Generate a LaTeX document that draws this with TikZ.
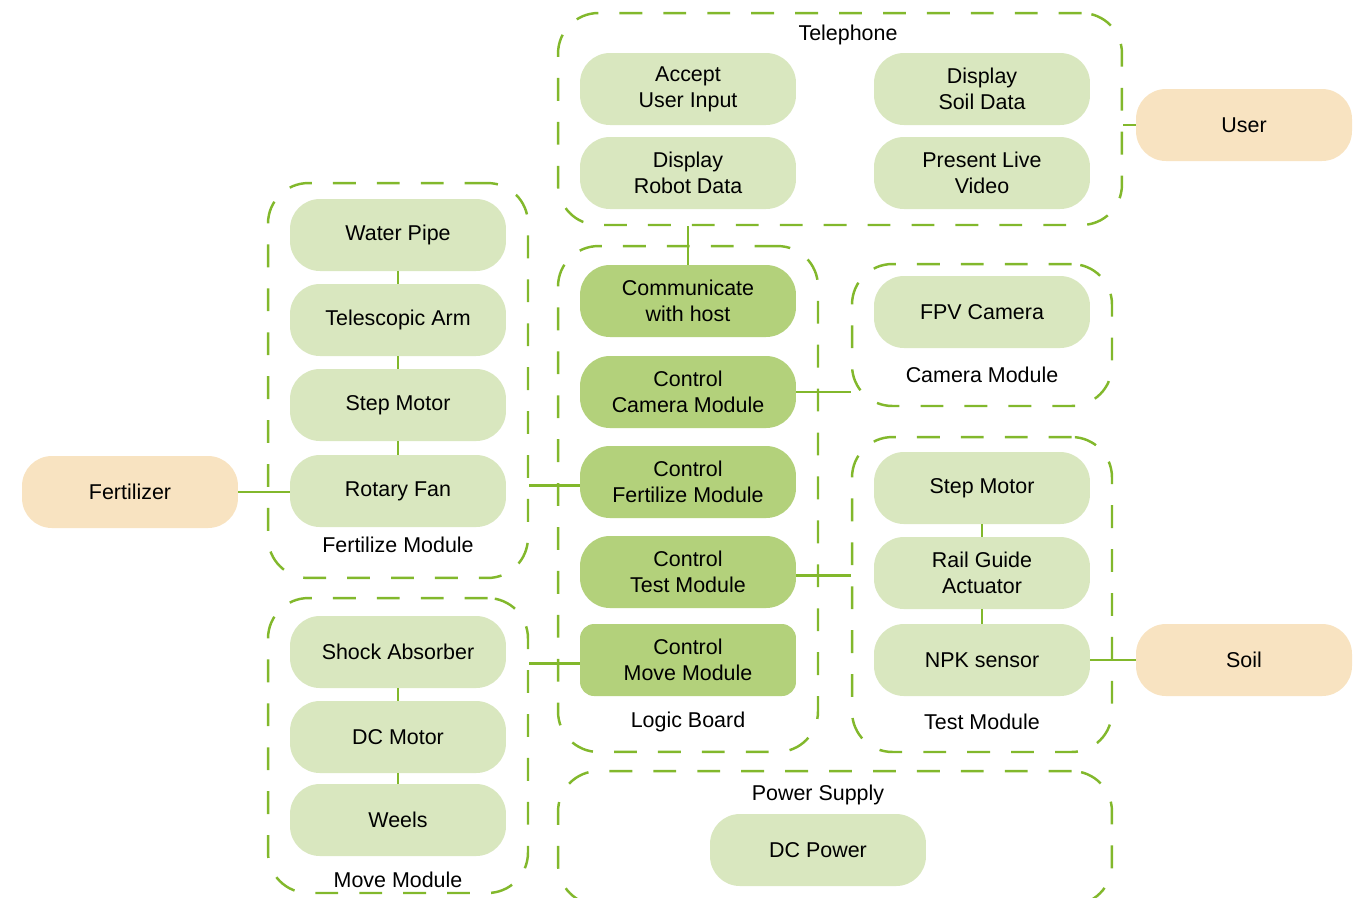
\documentclass[tikz,border=0pt]{standalone}
\usepackage{fontspec}
\setmainfont{Liberation Sans}
\usepackage{xcolor}
\definecolor{leafgreen}{HTML}{D9E7BF}
\definecolor{darkleaf}{HTML}{B3D17B}
\definecolor{sand}{HTML}{F8E3C1}
\definecolor{edgegreen}{HTML}{82B82C}

\begin{document}
\begin{tikzpicture}[x=0.02cm,y=-0.02cm,
  txt/.style={font=\fontsize{12.2}{14.7}\selectfont,align=center,text=black},
  box/.style={txt,fill=leafgreen,rounded corners=17pt,minimum width=4.32cm,minimum height=1.44cm,inner sep=2pt},
  ctrl/.style={box,fill=darkleaf},
  ext/.style={box,fill=sand},
  grp/.style={draw=edgegreen,line width=1.4pt,dash pattern=on 13pt off 12pt,rounded corners=23pt,minimum width=5.2cm,inner sep=0pt},
  lbl/.style={txt},
  link/.style={draw=edgegreen,line width=1.2pt}]
  \useasboundingbox (0,0) rectangle (1354,897);
  % groups
  \node[grp,minimum width=11.28cm,minimum height=4.24cm] (tel) at (840,119) {};
  \node[grp,minimum height=7.9cm] (fert) at (398,380.5) {};
  \node[grp,minimum height=5.9cm] (move) at (398,745.5) {};
  \node[grp,minimum height=10.12cm] (logic) at (688,499) {};
  \node[grp,minimum height=2.84cm] (cam) at (982,335) {};
  \node[grp,minimum height=6.3cm] (test) at (982,594.5) {};
  \node[grp,minimum width=11.08cm,minimum height=2.68cm] (power) at (835,838) {};
  \node[lbl] at (848,35) {Telephone};
  \node[lbl] at (398,545) {Fertilize Module};
  \node[lbl] at (398,880) {Move Module};
  \node[lbl] at (688,722) {Logic Board};
  \node[lbl] at (982,375) {Camera Module};
  \node[lbl] at (982,722) {Test Module};
  \node[lbl] at (818,795) {Power Supply};
  % telephone
  \node[box] (accept) at (688,89) {Accept\\User Input};
  \node[box] (soildata) at (982,89) {Display\\Soil Data};
  \node[box] (robotdata) at (688,173) {Display\\Robot Data};
  \node[box] (video) at (982,173) {Present Live\\Video};
  \node[ext] (user) at (1244,125) {User};
  % fertilize module
  \node[box] (wpipe) at (398,235) {Water Pipe};
  \node[box] (tarm) at (398,320) {Telescopic Arm};
  \node[box] (smotor) at (398,405) {Step Motor};
  \node[box] (rfan) at (398,491) {Rotary Fan};
  \node[ext] (fertilizer) at (130,492) {Fertilizer};
  % move module
  \node[box] (shock) at (398,652) {Shock Absorber};
  \node[box] (dcm) at (398,737) {DC Motor};
  \node[box] (weels) at (398,820) {Weels};
  % logic board
  \node[ctrl] (com) at (688,301) {Communicate\\with host};
  \node[ctrl] (ccam) at (688,392) {Control\\Camera Module};
  \node[ctrl] (cfert) at (688,482) {Control\\Fertilize Module};
  \node[ctrl] (ctest) at (688,572) {Control\\Test Module};
  \node[ctrl,rounded corners=8pt] (cmove) at (688,660) {Control\\Move Module};
  % camera, test, power
  \node[box] (fpv) at (982,312) {FPV Camera};
  \node[box] (tsmotor) at (982,488) {Step Motor};
  \node[box] (rail) at (982,573) {Rail Guide\\Actuator};
  \node[box] (npk) at (982,660) {NPK sensor};
  \node[ext] (soil) at (1244,660) {Soil};
  \node[box] (dcpower) at (818,850) {DC Power};
  % connectors
  \foreach \a/\b in {wpipe/tarm,tarm/smotor,smotor/rfan,shock/dcm,dcm/weels,tsmotor/rail,rail/npk}
    \draw[link] (\a) -- (\b);
  \draw[link] (user.west) -- (user.west -| tel.east);
  \draw[link] (com.north) -- (com.north |- tel.south);
  \draw[link] (ccam.east) -- (ccam.east -| cam.west);
  \draw[link] ([yshift=-2pt]cfert.west) -- ([yshift=-2pt]cfert.west -| fert.east);
  \draw[link] ([yshift=-2pt]ctest.east) -- ([yshift=-2pt]ctest.east -| test.west);
  \draw[link] ([yshift=-2pt]cmove.west) -- ([yshift=-2pt]cmove.west -| move.east);
  \draw[link] (fertilizer.east) -- (rfan.west |- fertilizer.east);
  \draw[link] (npk.east) -- (soil.west);
\end{tikzpicture}
\end{document}
